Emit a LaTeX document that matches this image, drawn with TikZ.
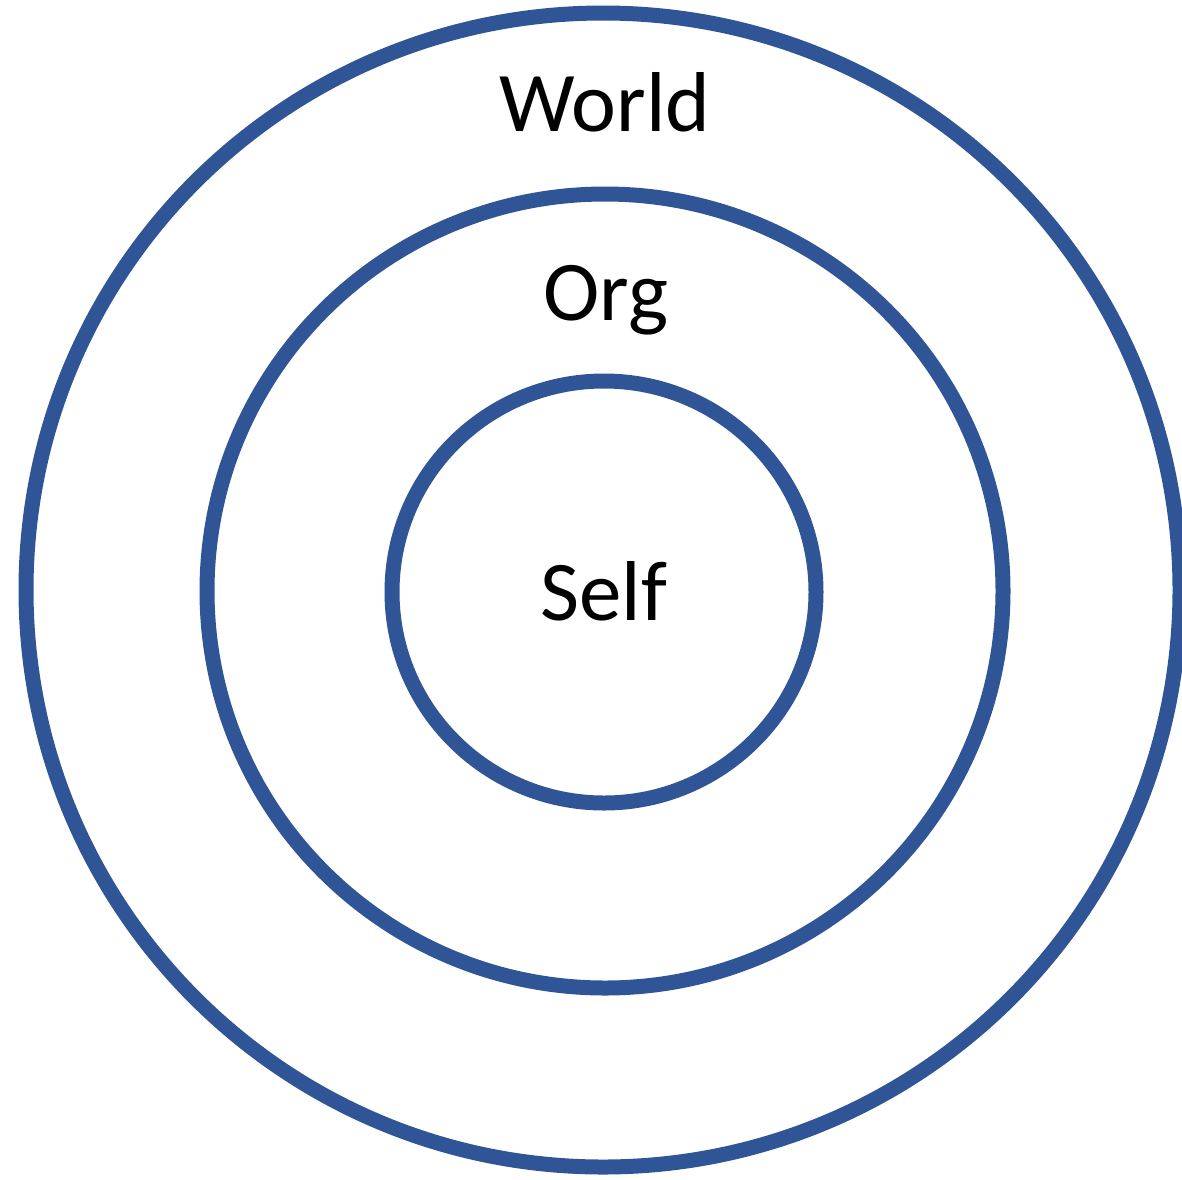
\documentclass[tikz,border=0pt]{standalone}
\usepackage{fontspec}
\setmainfont{Carlito}
\definecolor{ringblue}{HTML}{2F5597}
\begin{document}
\begin{tikzpicture}[x=1pt,y=-1pt,
  ring/.style={draw=ringblue,line width=15pt},
  lbl/.style={font=\fontsize{85}{90}\selectfont,anchor=base,inner sep=0pt}]
\useasboundingbox (0,0) rectangle (1182,1179);
\begin{scope}
\clip (0,0) rectangle (1182,1179);
\draw[ring] (603,590) ellipse [x radius=577,y radius=577] node (world) {};
\draw[ring] (605,591) ellipse [x radius=398,y radius=397] node (org) {};
\draw[ring] (604,592) ellipse [x radius=212,y radius=211] node (self) {};
\end{scope}
\node[lbl] (tworld) at (605,131) {World};
\node[lbl] (torg) at (606,320) {Org};
\node[lbl] (tself) at (604,620) {Self};
\end{tikzpicture}
\end{document}
